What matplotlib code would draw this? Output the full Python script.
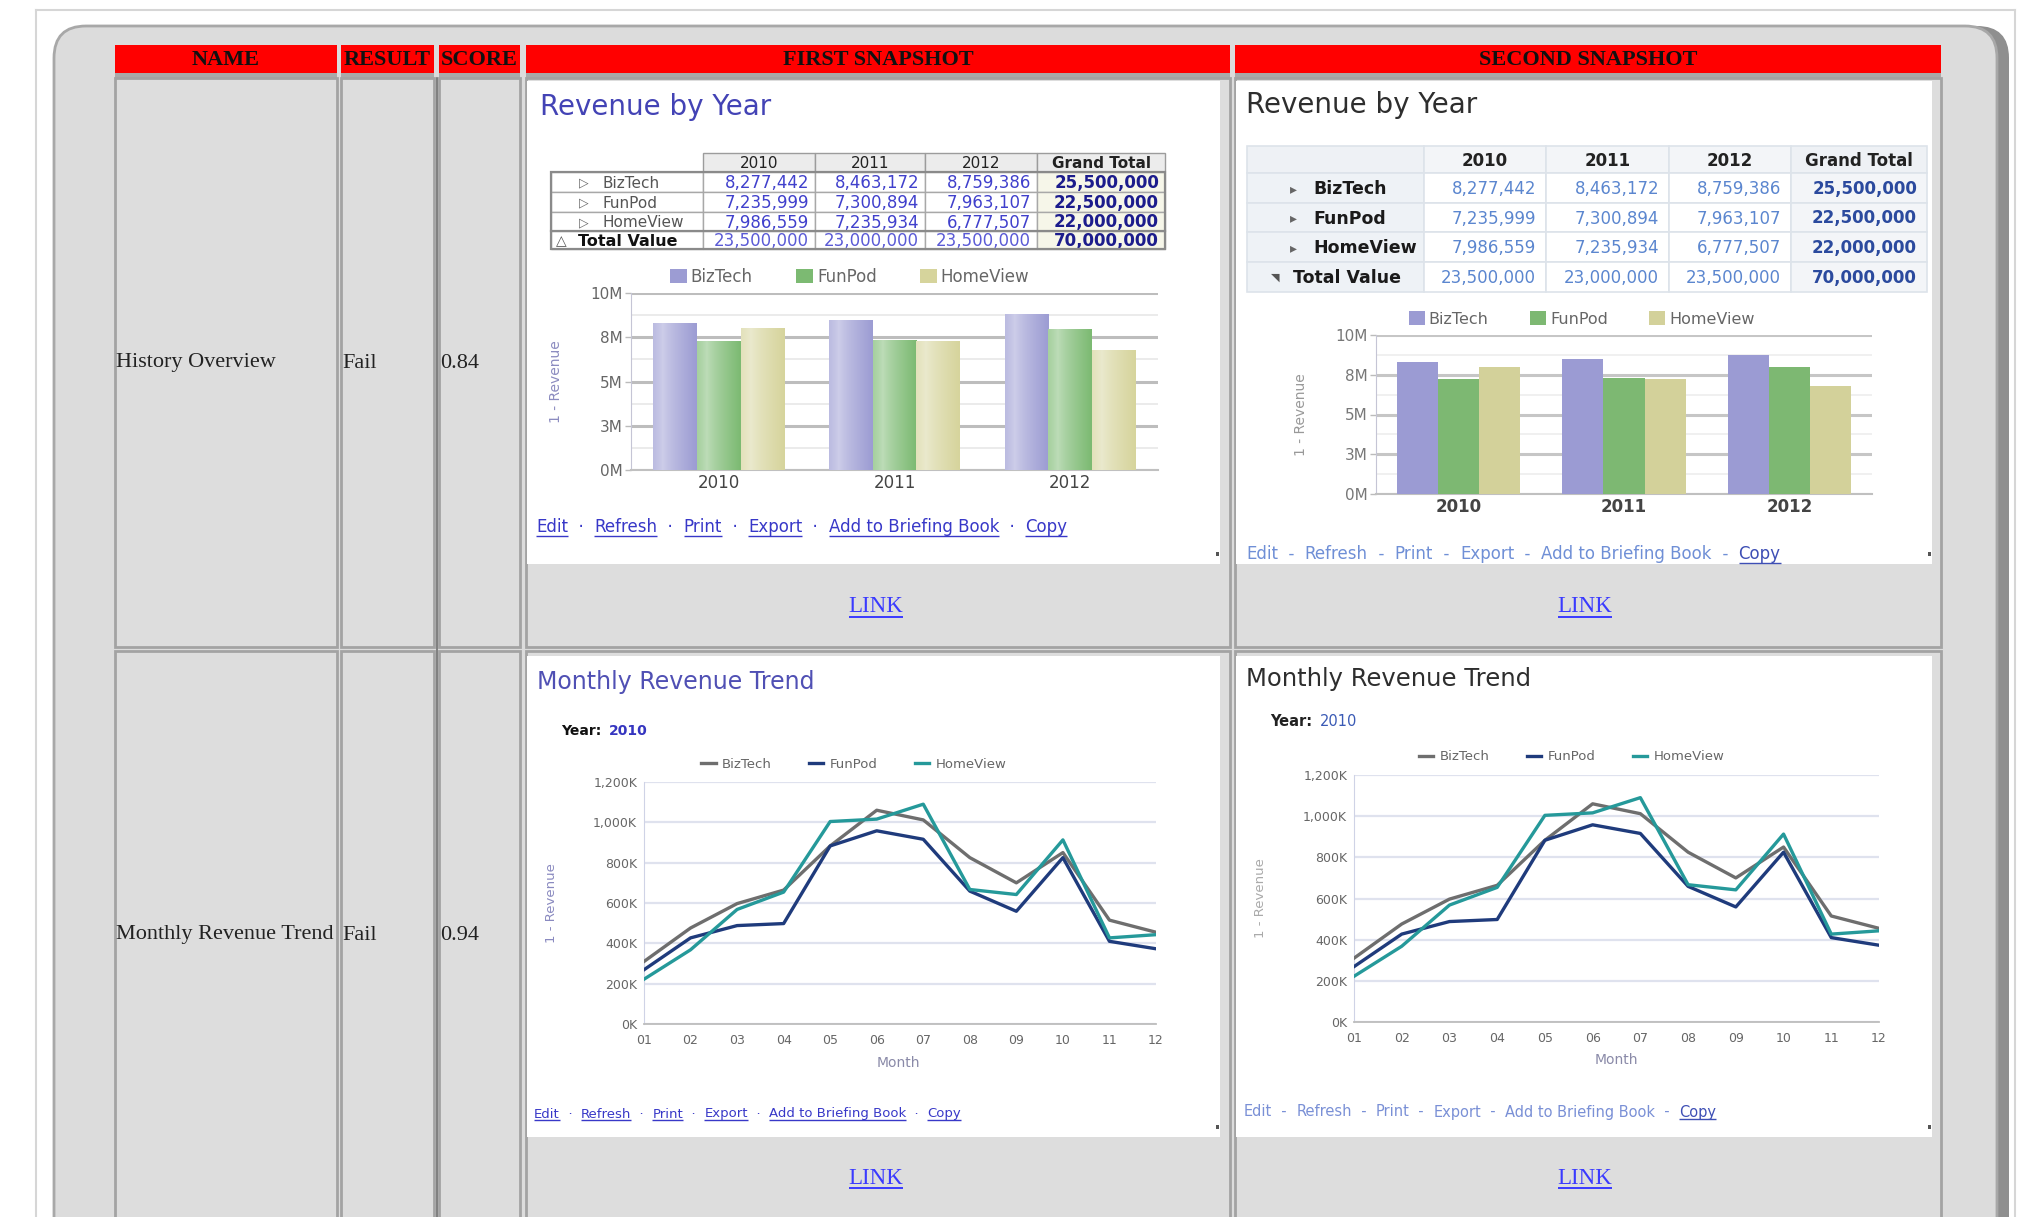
import numpy as np
import matplotlib
matplotlib.use("Agg")
import matplotlib.pyplot as plt
from matplotlib.patches import Rectangle, FancyBboxPatch
from matplotlib.colors import to_rgb

W, H = 2025, 1217

# ---------------- data ----------------
columns = ["NAME", "RESULT", "SCORE", "FIRST SNAPSHOT", "SECOND SNAPSHOT"]
test_names = ["History Overview", "Monthly Revenue Trend"]
test_results = ["Fail", "Fail"]
test_scores = ["0.84", "0.94"]

years = ["2010", "2011", "2012"]
companies = ["BizTech", "FunPod", "HomeView"]
biztech_year = [8277442, 8463172, 8759386]
funpod_year = [7235999, 7300894, 7963107]
homeview_year = [7986559, 7235934, 6777507]
grand_totals = [25500000, 22500000, 22000000]
year_totals = [23500000, 23000000, 23500000]
overall_total = 70000000
total_label = "Total Value"

bar_ticks = [0, 2500000, 5000000, 7500000, 10000000]
bar_tick_labels = ["0M", "3M", "5M", "8M", "10M"]
bar_minor_ticks = [1250000, 3750000, 6250000, 8750000]

months = ["01", "02", "03", "04", "05", "06", "07", "08", "09", "10", "11", "12"]
biztech_month = [310, 476, 597, 664, 883, 1060, 1012, 825, 700, 850, 515, 455]
funpod_month = [269, 427, 488, 498, 883, 958, 916, 659, 559, 825, 410, 373]
homeview_month = [222, 368, 568, 654, 1004, 1016, 1090, 667, 642, 913, 427, 443]
line_ticks = [0, 200, 400, 600, 800, 1000, 1200]
line_tick_labels = ["0K", "200K", "400K", "600K", "800K", "1,000K", "1,200K"]
trend_year = "2010"

link_items = ["Edit", "Refresh", "Print", "Export", "Add to Briefing Book", "Copy"]
link_word = "LINK"

# ---------------- figure ----------------
fig = plt.figure(figsize=(W / 100, H / 100), dpi=100)
fig.patch.set_facecolor("white")
bg = fig.add_axes([0, 0, 1, 1])
bg.set_xlim(0, W)
bg.set_ylim(H, 0)
bg.axis("off")
R = fig.canvas.get_renderer()

SERIF = "Liberation Serif"
SANS = "DejaVu Sans"


def pax(x0, y0, x1, y1):
    return fig.add_axes([x0 / W, 1 - y1 / H, (x1 - x0) / W, (y1 - y0) / H])


def rect(x0, y0, x1, y1, fc, ec="none", lw=0, z=1):
    bg.add_patch(Rectangle((x0, y0), x1 - x0, y1 - y0, facecolor=fc,
                           edgecolor=ec, linewidth=lw, zorder=z))


def underline(t, color, lw=1.2):
    bb = t.get_window_extent(R)
    yy = H - bb.y0 - 0.5
    bg.plot([bb.x0, bb.x1], [yy, yy], color=color, lw=lw, zorder=6,
            solid_capstyle="butt")
    return bb


# page frame
bg.plot([36, 2015], [10, 10], color="#d6d6d6", lw=1.5, zorder=1)
bg.plot([36, 36], [10, H], color="#d6d6d6", lw=1.5, zorder=1)
bg.plot([2015, 2015], [10, H], color="#d6d6d6", lw=1.5, zorder=1)

# rounded gray panel
bg.add_patch(FancyBboxPatch((54, 26), 1955, H + 60, boxstyle="round,pad=0,rounding_size=32",
                            facecolor="#8f8f8f", edgecolor="none", zorder=1))
bg.add_patch(FancyBboxPatch((54, 26), 1943, H + 60, boxstyle="round,pad=0,rounding_size=32",
                            facecolor="#dcdcdc", edgecolor="#a8a8a8", linewidth=2, zorder=1.1))

# table geometry
col_x = [(115, 337), (341, 434), (439, 520), (526, 1230), (1235, 1941)]
row_y = [(78, 647), (651, H + 5)]

# header
for (x0, x1), name in zip(col_x, columns):
    rect(x0, 45, x1, 73, "#ff0000", z=2)
    rect(x0, 73, x1, 78, "#a9a9a9", z=2)
    bg.text((x0 + x1) / 2, 60, name, ha="center", va="center", family=SERIF,
            fontweight="bold", fontsize=16, color="#111111", zorder=3)

# body cells
for (y0, y1) in row_y:
    for (x0, x1) in col_x:
        rect(x0, y0, x1, y1, "#dddddd", ec="#a3a3a3", lw=2, z=2)
bg.plot([437, 437], [78, H], color="#6f6f6f", lw=1.2, zorder=3)

for i, (y0, y1) in enumerate(row_y):
    yc = 363 if i == 0 else 935
    bg.text(116, yc, test_names[i], ha="left", va="center", family=SERIF,
            fontsize=16, color="#222222", zorder=3)
    bg.text(342, yc, test_results[i], ha="left", va="center", family=SERIF,
            fontsize=16, color="#222222", zorder=3)
    bg.text(440, yc, test_scores[i], ha="left", va="center", family=SERIF,
            fontsize=16, color="#222222", zorder=3)

# white snapshot boxes
boxes = [(527, 81, 1220, 564), (1236, 81, 1932, 564),
         (527, 656, 1220, 1137), (1236, 656, 1932, 1137)]
for (x0, y0, x1, y1) in boxes:
    rect(x0, y0, x1, y1, "white", z=3)
    rect(x1 - 4, y1 - 12, x1 - 1, y1 - 8, "#555555", z=4)

# LINK texts
for yc in (607, 1178):
    for xc in (876, 1585):
        t = bg.text(xc, yc, link_word, ha="center", va="center", family=SERIF,
                    fontsize=16.5, color="#3a3aff", zorder=5)
        underline(t, "#3a3aff", 1.4)


# ---------------- helpers for snapshot contents ----------------
def link_row(x, y, sep, size, col_link, col_plain, underline_all):
    for i, item in enumerate(link_items):
        is_link = underline_all or item == "Copy"
        c = col_link if is_link else col_plain
        t = bg.text(x, y, item, fontsize=size, color=c, va="center", ha="left",
                    family=SANS, zorder=5)
        bb = t.get_window_extent(R)
        if is_link:
            underline(t, c, 1.0)
        x = bb.x1
        if i < len(link_items) - 1:
            s = bg.text(x, y, sep, fontsize=size, color=col_plain, va="center",
                        ha="left", family=SANS, zorder=5)
            x = s.get_window_extent(R).x1


def table_rows():
    rows = []
    for name, vals, gt in zip(companies, [biztech_year, funpod_year, homeview_year], grand_totals):
        rows.append((name, vals, gt))
    rows.append((total_label, year_totals, overall_total))
    return rows


def draw_table_old(xs, ys):
    for j in range(1, 5):
        rect(xs[j], ys[0], xs[j + 1], ys[1], "#ececec", ec="#9c9c9c", lw=1, z=4)
        lab = years[j - 1] if j < 4 else "Grand Total"
        bg.text((xs[j] + xs[j + 1]) / 2, (ys[0] + ys[1]) / 2 + 1, lab, ha="center", va="center",
                family=SANS, fontsize=11, color="#222222",
                fontweight="bold" if j == 4 else "normal", zorder=5)
    for i, (name, vals, gt) in enumerate(table_rows()):
        y0, y1 = ys[i + 1], ys[i + 2]
        yc = (y0 + y1) / 2 + 1
        for j in range(5):
            fc = "#f6f6e9" if j == 4 else "white"
            rect(xs[j], y0, xs[j + 1], y1, fc, ec="#a8a8a8", lw=1, z=4)
        if name == total_label:
            bg.text(xs[0] + 5, yc, "\u25b3", ha="left", va="center", family=SANS,
                    fontsize=10, color="#555555", zorder=5)
            bg.text(xs[0] + 27, yc, name, ha="left", va="center", family=SANS,
                    fontsize=11.5, fontweight="bold", color="#111111", zorder=5)
            vcol = "#5a5ad6"
        else:
            bg.text(xs[0] + 28, yc, "\u25b7", ha="left", va="center", family=SANS,
                    fontsize=9, color="#666666", zorder=5)
            bg.text(xs[0] + 52, yc, name, ha="left", va="center", family=SANS,
                    fontsize=11, color="#555555", zorder=5)
            vcol = "#4040cc"
        for j, v in enumerate(vals):
            bg.text(xs[j + 2] - 6, yc, f"{v:,}", ha="right", va="center", family=SANS,
                    fontsize=12, color=vcol, zorder=5)
        bg.text(xs[5] - 6, yc, f"{gt:,}", ha="right", va="center", family=SANS,
                fontsize=12, fontweight="bold", color="#1c1c8c", zorder=5)
    bg.add_patch(Rectangle((xs[0], ys[1]), xs[5] - xs[0], ys[5] - ys[1], fill=False,
                           edgecolor="#8a8a8a", lw=1.6, zorder=6))
    bg.plot([xs[0], xs[5]], [ys[4], ys[4]], color="#8a8a8a", lw=1.6, zorder=6)


def draw_table_new(xs, ys):
    for j in range(5):
        fc = "#eef1f5" if j in (0, 4) else "#f3f5f8"
        rect(xs[j], ys[0], xs[j + 1], ys[1], fc, ec="#dde3ea", lw=1.2, z=4)
        if j > 0:
            lab = years[j - 1] if j < 4 else "Grand Total"
            bg.text((xs[j] + xs[j + 1]) / 2, (ys[0] + ys[1]) / 2 + 1, lab, ha="center",
                    va="center", family=SANS, fontsize=12, fontweight="bold",
                    color="#222222", zorder=5)
    for i, (name, vals, gt) in enumerate(table_rows()):
        y0, y1 = ys[i + 1], ys[i + 2]
        yc = (y0 + y1) / 2 + 1
        for j in range(5):
            fc = "#eef2f6" if j == 0 else ("#f3f5f8" if j == 4 else "white")
            rect(xs[j], y0, xs[j + 1], y1, fc, ec="#dde3ea", lw=1.2, z=4)
        if name == total_label:
            bg.text(xs[0] + 24, yc, "\u25e5", ha="left", va="center", family=SANS,
                    fontsize=8, color="#555555", zorder=5)
            bg.text(xs[0] + 46, yc, name, ha="left", va="center", family=SANS,
                    fontsize=12.5, fontweight="bold", color="#1a1a1a", zorder=5)
        else:
            bg.text(xs[0] + 43, yc, "\u25b8", ha="left", va="center", family=SANS,
                    fontsize=10, color="#666666", zorder=5)
            bg.text(xs[0] + 66, yc, name, ha="left", va="center", family=SANS,
                    fontsize=12.5, fontweight="bold", color="#1a1a1a", zorder=5)
        for j, v in enumerate(vals):
            bg.text(xs[j + 2] - 10, yc, f"{v:,}", ha="right", va="center", family=SANS,
                    fontsize=12, color="#5b86cf", zorder=5)
        bg.text(xs[5] - 10, yc, f"{gt:,}", ha="right", va="center", family=SANS,
                fontsize=12, fontweight="bold", color="#2b4a9e", zorder=5)


def grad_bars(ax, bars, base):
    c = np.array(to_rgb(base))
    light = c + (1 - c) * 0.5
    t = np.linspace(0, 1, 60)
    prof = np.clip(np.abs(t - 0.22) / 0.78, 0, 1) ** 0.8
    cols = light[None, :] * (1 - prof[:, None]) + c[None, :] * prof[:, None]
    img = cols[None, :, :]
    for p in bars:
        x, y, w, h = p.get_x(), p.get_y(), p.get_width(), p.get_height()
        ax.imshow(img, extent=(x, x + w, y, y + h), aspect="auto", zorder=3.5,
                  interpolation="bilinear")


def bar_chart(box, gradient, colors, grid_major, grid_minor, ylab_x, leg_x, leg_y,
              lab_color, xlab_bold, ylab_color, leg_size):
    ax = pax(*box)
    x = np.arange(len(years))
    w = 0.248
    series = [biztech_year, funpod_year, homeview_year]
    for k, (vals, col) in enumerate(zip(series, colors)):
        bars = ax.bar(x + (k - 1) * w, vals, w, color=col, label=companies[k], zorder=3,
                      linewidth=0)
        if gradient:
            grad_bars(ax, bars, col)
    ax.set_xlim(-0.5, 2.5)
    ax.set_ylim(0, 10000000)
    ax.set_yticks(bar_ticks)
    ax.set_yticklabels(bar_tick_labels)
    ax.set_yticks(bar_minor_ticks, minor=True)
    ax.set_axisbelow(True)
    ax.grid(which="major", axis="y", color=grid_major, lw=2.2)
    ax.grid(which="minor", axis="y", color=grid_minor, lw=1.2)
    ax.set_xticks(x)
    ax.set_xticklabels(years, fontsize=12, color="#444444",
                       fontweight="bold" if xlab_bold else "normal", family=SANS)
    ax.tick_params(axis="x", length=0, pad=3)
    ax.tick_params(axis="y", which="major", length=4, width=1, color="#bbbbbb",
                   labelsize=11, labelcolor=lab_color, pad=2)
    ax.tick_params(axis="y", which="minor", length=0)
    for s in ("top", "right"):
        ax.spines[s].set_visible(False)
    ax.spines["left"].set_color("#c5c5d5")
    ax.spines["bottom"].set_color("#c0c0c0")
    ax.spines["bottom"].set_linewidth(1.5)
    ax.set_facecolor("none")
    ax.set_ylabel("1 - Revenue", fontsize=10, color=ylab_color, family=SANS)
    ax.yaxis.set_label_coords((ylab_x - box[0]) / (box[2] - box[0]), 0.5)
    leg = ax.legend(loc="center", bbox_to_anchor=(leg_x, leg_y), ncol=3, frameon=False,
                    fontsize=leg_size, handlelength=1.0, handleheight=0.9, handletextpad=0.25,
                    columnspacing=2.6, borderaxespad=0)
    for t in leg.get_texts():
        t.set_color("#666666")
    return ax


def line_chart(box, ylab_x, leg_x, leg_y, ylab_color, month_xc, month_y):
    ax = pax(*box)
    xi = np.arange(len(months))
    ax.plot(xi, biztech_month, color="#6e6e6e", lw=2.4, label=companies[0], zorder=3)
    ax.plot(xi, funpod_month, color="#1f3b7c", lw=2.4, label=companies[1], zorder=3)
    ax.plot(xi, homeview_month, color="#25999a", lw=2.4, label=companies[2], zorder=3)
    ax.set_xlim(0, len(months) - 1)
    ax.set_ylim(0, 1200)
    ax.set_yticks(line_ticks)
    ax.set_yticklabels(line_tick_labels)
    ax.set_xticks(xi)
    ax.set_xticklabels(months)
    ax.set_axisbelow(True)
    ax.grid(axis="y", color="#dfe2ee", lw=1.6)
    ax.tick_params(axis="x", length=0, pad=7, labelsize=9, labelcolor="#666666")
    ax.tick_params(axis="y", length=0, pad=5, labelsize=9, labelcolor="#666666")
    for s in ("top", "right"):
        ax.spines[s].set_visible(False)
    ax.spines["left"].set_color("#cfd3e6")
    ax.spines["bottom"].set_color("#bdbdbd")
    ax.spines["bottom"].set_linewidth(1.3)
    ax.set_facecolor("none")
    ax.set_ylabel("1 - Revenue", fontsize=9.5, color=ylab_color, family=SANS)
    ax.yaxis.set_label_coords((ylab_x - box[0]) / (box[2] - box[0]), 0.5)
    ax.set_xlabel("Month", fontsize=10, color="#8a8aa8", family=SANS)
    ax.xaxis.set_label_coords((month_xc - box[0]) / (box[2] - box[0]),
                              (box[3] - month_y) / (box[3] - box[1]))
    ax.xaxis.label.set_verticalalignment("center")
    leg = ax.legend(loc="center", bbox_to_anchor=(leg_x, leg_y), ncol=3, frameon=False,
                    fontsize=9.5, handlelength=1.1, handletextpad=0.5,
                    columnspacing=2.8, borderaxespad=0)
    for t in leg.get_texts():
        t.set_color("#666666")
    return ax


# ---------------- snapshot 1 : Revenue by Year (first) ----------------
bg.text(540, 107, "Revenue by Year", ha="left", va="center", family=SANS, fontsize=20,
        color="#4343b5", zorder=5)
draw_table_old([551, 703, 815, 925, 1037, 1165], [153, 172, 192, 212, 231, 249])
box1 = (631, 293, 1158, 470)
bar_chart(box1, True, ["#9c9cd3", "#7cba72", "#d6d49c"], "#bdbdbd", "#e8e8e8",
          563, 0.415, (box1[1] - 277) / (box1[3] - box1[1]) + 1, "#666666", False, "#8c8cc0", 12)
link_row(536, 527, "  \u00b7  ", 12, "#3838c8", "#3838c8", True)

# ---------------- snapshot 2 : Revenue by Year (second) ----------------
bg.text(1246, 105, "Revenue by Year", ha="left", va="center", family=SANS, fontsize=20,
        color="#2e2e2e", zorder=5)
draw_table_new([1247, 1424, 1546, 1669, 1791, 1927], [146, 173, 203, 232, 262, 292])
box2 = (1376, 335, 1872, 494)
bar_chart(box2, False, ["#9b9bd3", "#7db872", "#d3d19a"], "#c6c6c6", "#ededed",
          1308, 0.415, (box2[1] - 319) / (box2[3] - box2[1]) + 1, "#777777", True, "#999999", 11.5)
link_row(1246, 554, "  -  ", 12, "#3e4fb5", "#6f8fd6", False)

# ---------------- snapshot 3 : Monthly Revenue Trend (first) ----------------
bg.text(537, 682, "Monthly Revenue Trend", ha="left", va="center", family=SANS, fontsize=17,
        color="#5050b4", zorder=5)
t = bg.text(561, 731, "Year:", ha="left", va="center", family=SANS, fontsize=10,
            fontweight="bold", color="#111111", zorder=5)
bg.text(t.get_window_extent(R).x1 + 8, 731, trend_year, ha="left", va="center", family=SANS,
        fontsize=10, fontweight="bold", color="#3535c0", zorder=5)
box3 = (644, 782, 1156, 1024)
line_chart(box3, 558, 0.41, (box3[3] - 764) / (box3[3] - box3[1]), "#8a8ac0", 898, 1063)
link_row(534, 1114, "  \u00b7  ", 9.5, "#3838c8", "#3838c8", True)

# ---------------- snapshot 4 : Monthly Revenue Trend (second) ----------------
bg.text(1246, 679, "Monthly Revenue Trend", ha="left", va="center", family=SANS, fontsize=17.5,
        color="#2e2e2e", zorder=5)
t = bg.text(1270, 722, "Year:", ha="left", va="center", family=SANS, fontsize=10.5,
            fontweight="bold", color="#222222", zorder=5)
bg.text(t.get_window_extent(R).x1 + 8, 722, trend_year, ha="left", va="center", family=SANS,
        fontsize=10.5, color="#3a5ab5", zorder=5)
box4 = (1354, 775, 1879, 1022)
line_chart(box4, 1267, 0.415, (box4[3] - 757) / (box4[3] - box4[1]), "#aaaaaa", 1616, 1060)
link_row(1244, 1112, "  -  ", 10.5, "#3e4fb5", "#7a90d6", False)

fig.savefig("out.png", dpi=100, facecolor="white")
